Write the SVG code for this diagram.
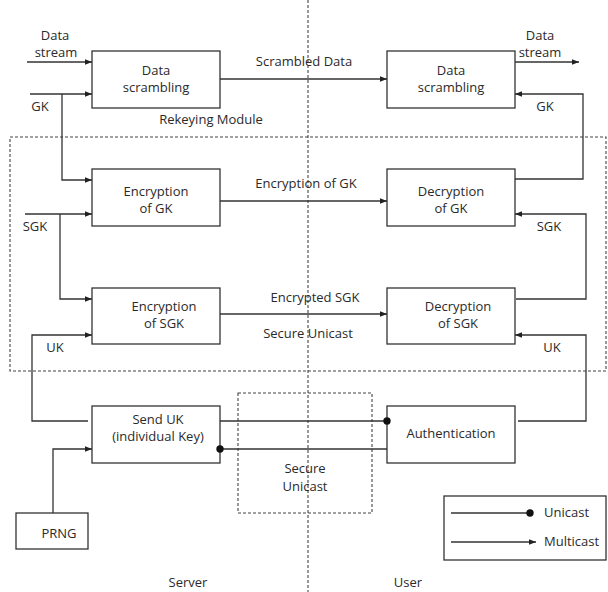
<svg xmlns="http://www.w3.org/2000/svg" width="608" height="592" viewBox="0 0 608 592">
<defs>
<marker id="arr" viewBox="0 0 10 10" refX="10" refY="5" markerWidth="7" markerHeight="7" markerUnits="userSpaceOnUse" orient="auto"><path d="M0,1 L10,5 L0,9 z" fill="#222"/></marker>
<marker id="dot" viewBox="0 0 10 10" refX="5" refY="5" markerWidth="8" markerHeight="8" markerUnits="userSpaceOnUse"><circle cx="5" cy="5" r="4.6" fill="#111"/></marker>
<style>
text{font-family:"Open Sans","Liberation Sans",sans-serif;font-size:13px;fill:#2a2a2a;text-anchor:middle}
.box{fill:#fff;stroke:#333;stroke-width:1.3}
.ln{fill:none;stroke:#333;stroke-width:1.3}
.dash{fill:none;stroke:#444;stroke-width:1.1;stroke-dasharray:3,2}
.l{text-anchor:start}
</style>
</defs>
<rect width="608" height="592" fill="#fff"/>
<rect class="dash" x="10" y="137" width="596" height="234"/>
<rect class="dash" x="238" y="393" width="134" height="120"/>
<line class="dash" x1="308" y1="0" x2="308" y2="592" stroke-dasharray="5,3"/>

<g id="ds-server"><rect class="box" x="92" y="51" width="128" height="57"/><text x="156" y="75">Data</text><text x="156" y="92">scrambling</text></g>
<g id="ds-user"><rect class="box" x="387" y="51" width="128" height="57"/><text x="451" y="75">Data</text><text x="451" y="92">scrambling</text></g>
<g id="enc-gk"><rect class="box" x="92" y="169" width="128" height="57"/><text x="156" y="196">Encryption</text><text x="156" y="213">of GK</text></g>
<g id="dec-gk"><rect class="box" x="387" y="169" width="128" height="57"/><text x="451" y="196">Decryption</text><text x="451" y="213">of GK</text></g>
<g id="enc-sgk"><rect class="box" x="92" y="288" width="128" height="56"/><text x="164" y="311">Encryption</text><text x="164" y="328">of SGK</text></g>
<g id="dec-sgk"><rect class="box" x="387" y="288" width="128" height="56"/><text x="458" y="311">Decryption</text><text x="458" y="328">of SGK</text></g>
<g id="send-uk"><rect class="box" x="92" y="406" width="128" height="57"/><text x="158" y="424">Send UK</text><text x="158" y="441">(individual Key)</text></g>
<g id="auth"><rect class="box" x="387" y="406" width="128" height="57"/><text x="451" y="438">Authentication</text></g>
<g id="prng"><rect class="box" x="16" y="513" width="72" height="36"/><text x="59" y="538">PRNG</text></g>
<g id="secure-unicast"><text x="305" y="473">Secure</text><text x="305" y="491">Unicast</text></g>

<g id="connectors">
<path class="ln" d="M27,62 H92" marker-end="url(#arr)"/>
<path class="ln" d="M30,94 H92" marker-end="url(#arr)"/>
<path class="ln" d="M62,94 V180 H92" marker-end="url(#arr)"/>
<path class="ln" d="M220,79 H387" marker-end="url(#arr)"/>
<path class="ln" d="M515,62 H579" marker-end="url(#arr)"/>
<path class="ln" d="M515,179 H583 V94 H515" marker-end="url(#arr)"/>
<path class="ln" d="M25,214 H92" marker-end="url(#arr)"/>
<path class="ln" d="M60,214 V299 H92" marker-end="url(#arr)"/>
<path class="ln" d="M220,201 H387" marker-end="url(#arr)"/>
<path class="ln" d="M220,314 H387" marker-end="url(#arr)"/>
<path class="ln" d="M516,299 H586 V214 H515" marker-end="url(#arr)"/>
<path class="ln" d="M88,421 H32 V335 H92" marker-end="url(#arr)"/>
<path class="ln" d="M518,421 H586 V335 H515" marker-end="url(#arr)"/>
<path class="ln" d="M220,421 H387" marker-end="url(#dot)"/>
<path class="ln" d="M387,449 H220" marker-end="url(#dot)"/>
<path class="ln" d="M53,513 V449 H92" marker-end="url(#arr)"/>
</g>

<g id="legend">
<rect class="box" x="444" y="496" width="162" height="64"/>
<path class="ln" d="M451,513 H530" marker-end="url(#dot)"/>
<path class="ln" d="M451,542 H536" marker-end="url(#arr)"/>
<text class="l" x="544" y="517">Unicast</text>
<text class="l" x="544" y="546">Multicast</text>
</g>

<g id="labels">
<text x="55" y="40">Data</text>
<text x="56" y="57">stream</text>
<text x="40" y="111">GK</text>
<text x="304" y="66">Scrambled Data</text>
<text x="540" y="40">Data</text>
<text x="540" y="57">stream</text>
<text x="545" y="111">GK</text>
<text x="211" y="124">Rekeying Module</text>
<text x="306" y="188">Encryption of GK</text>
<text x="35" y="231">SGK</text>
<text x="549" y="231">SGK</text>
<text x="315" y="302">Encrypted  SGK</text>
<text x="308" y="338">Secure Unicast</text>
<text x="55" y="352">UK</text>
<text x="552" y="352">UK</text>
<text x="188" y="587">Server</text>
<text x="408" y="587">User</text>
</g>
</svg>
